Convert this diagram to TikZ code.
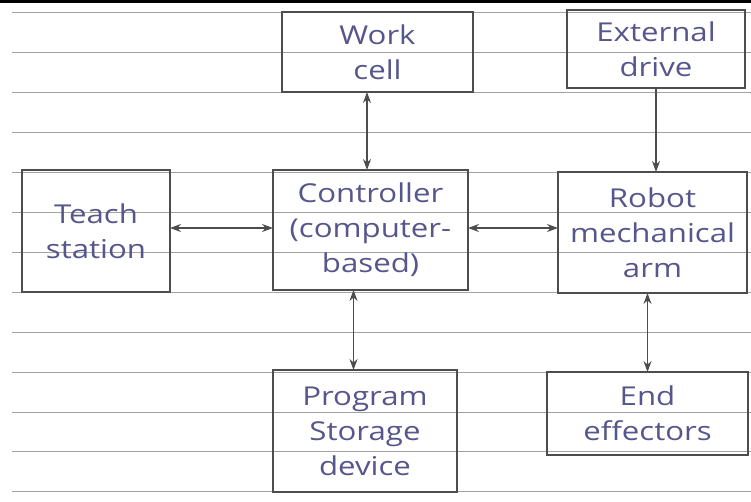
\documentclass[tikz,border=0pt]{standalone}
\usepackage{fontspec}
\newfontfamily\hand[FakeStretch=1.2]{Open Sans}
\usetikzlibrary{arrows.meta,calc}
\definecolor{ink}{HTML}{56568C}
\definecolor{pen}{HTML}{4D4D4D}
\definecolor{rule}{HTML}{A4A4A4}
\tikzset{
  box/.style={draw=pen, line width=1.5pt, rectangle, inner sep=0pt, outer sep=0pt,
    align=center, text=ink, font=\hand\fontsize{26}{35}\selectfont},
  conn/.style={draw=pen, line width=1.3pt},
  both/.style={conn, {Stealth[length=11pt,width=8pt]}-{Stealth[length=11pt,width=8pt]}},
  one/.style={conn, -{Stealth[length=11pt,width=8pt]}},
  ruling/.style={draw=rule, line width=1pt}
}
\begin{document}
\begin{tikzpicture}[x=1pt,y=-1pt]
\useasboundingbox[fill=white] (0,0) rectangle (751,502);
% ruled paper
\foreach \k in {0,...,12} {
  \draw[ruling] (12,{13+39.9*\k}) -- (751,{13+39.9*\k});
}
\draw[black, line width=3pt] (0,1.5) -- (751,1.5);
% boxes
\node[box, minimum width=191pt, minimum height=80pt] (wc) at (377.5,52) {Work\\cell};
\node[box, minimum width=178pt, minimum height=78pt] (ext) at (656,49) {External\\drive};
\node[box, minimum width=148pt, minimum height=122pt] (teach) at (96,231) {Teach\\station};
\node[box, minimum width=195pt, minimum height=120pt] (ctl) at (370.5,230) {Controller\\(computer-\\based)};
\node[box, minimum width=189pt, minimum height=121pt] (robot) at (652.5,232.5) {Robot\\mechanical\\arm};
\node[box, minimum width=184pt, minimum height=122pt] (prog) at (365,431) {Program\\Storage\\device};
\node[box, minimum width=201pt, minimum height=83pt] (end) at (647.5,413.5) {End\\effectors};
% connectors
\draw[both] ([xshift=-10.5pt]wc.south) -- ([xshift=-10.5pt]wc.south |- ctl.north);
\draw[one] (ext.south) -- (ext.south |- robot.north);
\draw[both] ([yshift=3pt]teach.east) -- ([yshift=3pt]teach.east -| ctl.west);
\draw[both] ([yshift=2pt]ctl.east) -- ([yshift=2pt]ctl.east -| robot.west);
\draw[both] ([xshift=-17pt]ctl.south) -- ([xshift=-17pt]ctl.south |- prog.north);
\draw[both] (end.north |- robot.south) -- (end.north);
\end{tikzpicture}
\end{document}
